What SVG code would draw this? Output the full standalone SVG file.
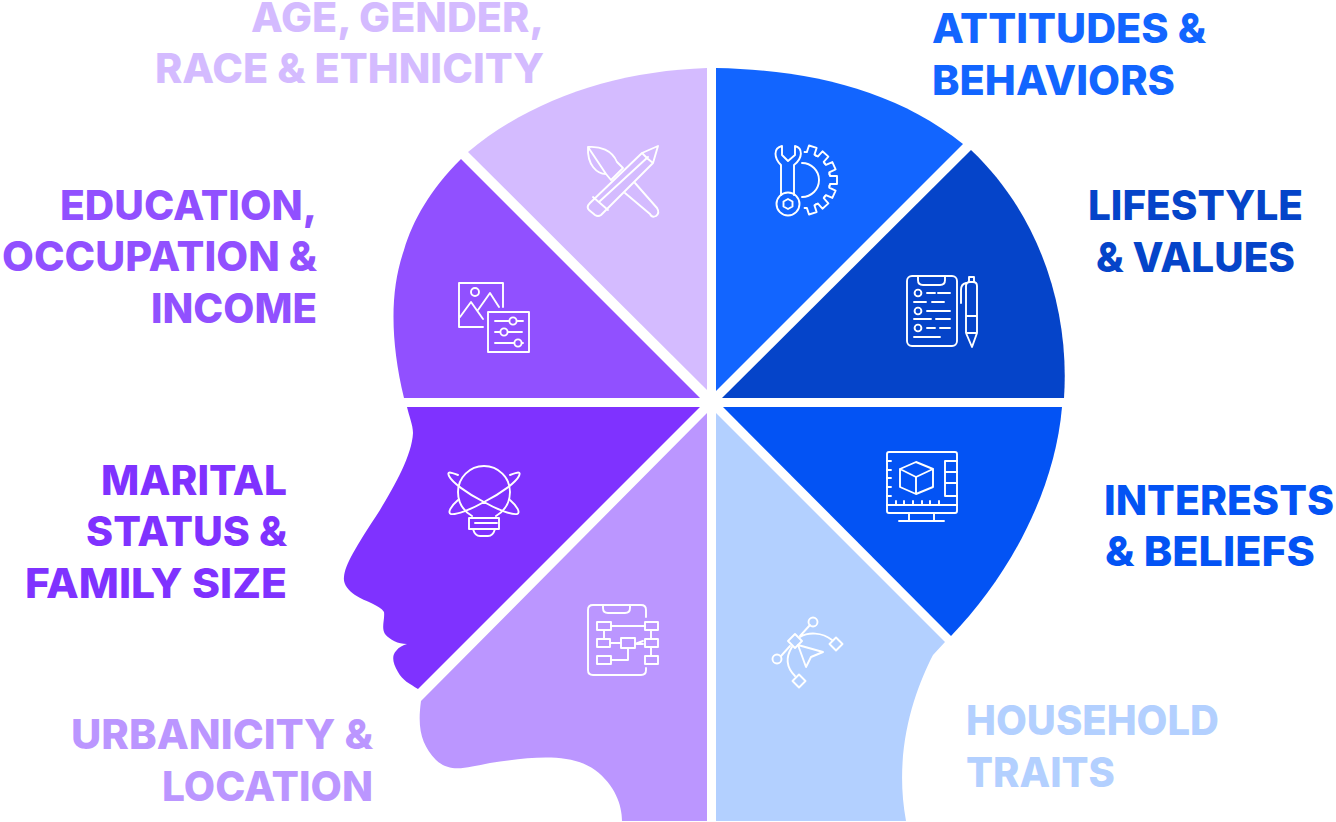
<svg xmlns="http://www.w3.org/2000/svg" width="1336" height="822" viewBox="0 0 1336 822">
<style>
text{font-family:"Inter","Roboto","Liberation Sans",sans-serif;font-weight:800;font-size:41px}
.i{fill:none;stroke:#fff;stroke-width:1.9;stroke-linejoin:round;stroke-linecap:round}
</style>
<defs><path id="t" d="M27.4 -6.2L28 -4H35V4H28L27.4 6.2"/></defs>
<rect width="1336" height="822" fill="#fff"/>
<g id="age">
<path fill="#d4bbff" d="M707 68V390L468 152C530 100 615 71 707 68Z"/>
<g class="i"><path d="M658 146L642 153L590 203Q586 207 589 210L595 215Q598 217 601 215L653 163ZM642 153L648 159L653 163M593 197L608 210M600 201L648 157"/><path d="M588 147C600 146 612 150 617 162L623 168L611 180L606 174C597 174 587 165 588 147ZM588 147L606 174M635 183L657 208Q660 213 656 216Q652 218 650 214L625 193"/></g>
<text x="251" y="32" textLength="293" lengthAdjust="spacingAndGlyphs" fill="#d4bbff">AGE, GENDER,</text><text x="155" y="83" textLength="389" lengthAdjust="spacingAndGlyphs" fill="#d4bbff">RACE &amp; ETHNICITY</text>
</g>
<g id="education">
<path fill="#9150ff" d="M461 159L700 398H404C390 340 390 290 404 250C413 220 430 190 461 159Z"/>
<g class="i"><path d="M483 327H459V283H503V307M460 317L471 302L483 319M478 310L490 293L499 307"/><circle cx="475" cy="292" r="4"/><rect x="488" y="312" width="41" height="40"/><path d="M495 321H509M517 321H523M495 332H500M508 332H522M495 343H514M522 343H523"/><circle cx="513" cy="321" r="3.6"/><circle cx="504" cy="332" r="3.6"/><circle cx="518" cy="343" r="3.6"/></g>
<text x="60" y="220" textLength="257" lengthAdjust="spacingAndGlyphs" fill="#9150ff">EDUCATION,</text><text x="2" y="271" textLength="315" lengthAdjust="spacingAndGlyphs" fill="#9150ff">OCCUPATION &amp;</text><text x="151" y="323" textLength="166" lengthAdjust="spacingAndGlyphs" fill="#9150ff">INCOME</text>
</g>
<g id="marital">
<path fill="#7f32ff" d="M407 407H700L418 689C410 684 402 680 398 672C392 662 392 655 396 651C399 647 403 645 407 644C398 644 390 640 385 634C381 627 385 620 384 612C380 605 366 602 355 595C348 590 343 584 344 577C345 565 355 548 380 510C395 485 412 455 413 433C413 425 409 416 407 407Z"/>
<g class="i"><path d="M472 516C462 510 458 502 458 492A26 26 0 0 1 510 492C510 502 506 510 496 516M469 518H499V529H469ZM475 523H497M473 529Q475 536 480 536H488Q493 536 495 529"/><path d="M458 475C450 472 447 471 449 476C452 482 466 493 484 502C498 510 512 515 517 514C521 513 517 506 510 500M510 475C518 472 521 471 519 476C516 482 502 493 484 502C470 510 456 515 451 514C447 513 451 506 458 500"/></g>
<text x="101" y="495" textLength="186" lengthAdjust="spacingAndGlyphs" fill="#7f32ff">MARITAL</text><text x="86" y="546" textLength="201" lengthAdjust="spacingAndGlyphs" fill="#7f32ff">STATUS &amp;</text><text x="25" y="598" textLength="262" lengthAdjust="spacingAndGlyphs" fill="#7f32ff">FAMILY SIZE</text>
</g>
<g id="urbanicity">
<path fill="#bb96ff" d="M707 413V821H622C622 805 615 785 595 770C570 752 530 757 490 763C465 768 450 773 436 760C422 745 417 730 421 701Z"/>
<g class="i"><path d="M646 617V610Q646 605 641 605H593Q588 605 588 610V670Q588 675 593 675H641Q646 675 646 670V668M603 605V608Q603 613 608 613H625Q630 613 630 608V605"/><rect x="597" y="622" width="14" height="8"/><rect x="645" y="622" width="13" height="8"/><rect x="597" y="639" width="13" height="8"/><rect x="621" y="638" width="14" height="10"/><rect x="645" y="639" width="13" height="8"/><rect x="597" y="656" width="14" height="8"/><rect x="645" y="656" width="13" height="8"/><path d="M611 626H645M604 630V639M651 630V639M610 643H621M628 648V660H611M651 647V656M635 644L643 641L637 644L643 644"/></g>
<text x="71" y="749" textLength="302" lengthAdjust="spacingAndGlyphs" fill="#bb96ff">URBANICITY &amp;</text><text x="162" y="801" textLength="211" lengthAdjust="spacingAndGlyphs" fill="#bb96ff">LOCATION</text>
</g>
<g id="attitudes">
<path fill="#1265ff" d="M716 68C810 70 895 90 963 144L716 391Z"/>
<g class="i"><path d="M781 165C774 158 773 148 782 146V155L788 161L795 155V146C803 148 803 158 794 165V195M781 165V195"/><circle cx="788" cy="204" r="11.5"/><path d="M788 199L792.5 201.5V206.5L788 209L783.5 206.5V201.5Z"/><path d="M802 163A17 17 0 0 1 802 197"/><g transform="translate(802 180)"><use href="#t" transform="rotate(-72)"/><use href="#t" transform="rotate(-48)"/><use href="#t" transform="rotate(-24)"/><use href="#t"/><use href="#t" transform="rotate(24)"/><use href="#t" transform="rotate(48)"/><use href="#t" transform="rotate(72)"/></g></g>
<text x="932" y="43" textLength="274" lengthAdjust="spacingAndGlyphs" fill="#1265ff">ATTITUDES &amp;</text><text x="932" y="95" textLength="243" lengthAdjust="spacingAndGlyphs" fill="#1265ff">BEHAVIORS</text>
</g>
<g id="lifestyle">
<path fill="#0544c9" d="M971 150C1040 215 1070 310 1064 398H722Z"/>
<g class="i"><rect x="907" y="276" width="50" height="70" rx="5"/><path d="M918 276V280Q918 285 923 285H940Q945 285 945 280V276"/><circle cx="918" cy="293" r="3.4"/><circle cx="918" cy="311" r="3.4"/><circle cx="918" cy="328" r="3.4"/><path d="M927 293H935M938 293H950M914 302H926M932 302H944M927 311H950M914 319H931M936 319H950M927 328H935M940 328H950M914 337H940"/><path d="M966 286Q966 282 970 282H973Q977 282 977 286V333L972 347L966 333ZM966 316H977M966 333H977M969 282V277H974V282M966 283Q961 284 961 290V303"/></g>
<text x="1088" y="220" textLength="215" lengthAdjust="spacingAndGlyphs" fill="#0544c9">LIFESTYLE</text><text x="1096" y="272" textLength="199" lengthAdjust="spacingAndGlyphs" fill="#0544c9">&amp; VALUES</text>
</g>
<g id="interests">
<path fill="#0353f4" d="M723 407H1062C1055 490 1010 575 951 636Z"/>
<g class="i"><rect x="887" y="452" width="70" height="61" rx="2"/><path d="M887 505H957M887 461H891M887 470H891M887 478H891M887 487H891M887 496H891M896 501V505M904 501V505M913 501V505M922 501V505M930 501V505M939 501V505M957 461H945V496H957M945 472H957M945 483H957"/><path d="M916 462L933 469V487L916 494L900 487V469ZM900 469L916 477L933 469M916 477V494M909 513V521M934 513V521M899 521H944"/></g>
<text x="1104" y="515" textLength="230" lengthAdjust="spacingAndGlyphs" fill="#0353f4">INTERESTS</text><text x="1105" y="566" textLength="210" lengthAdjust="spacingAndGlyphs" fill="#0353f4">&amp; BELIEFS</text>
</g>
<g id="household">
<path fill="#b3d0ff" d="M716 413L945 642L933 655C915 690 893 750 906 821H716Z"/>
<g class="i"><path d="M795 634L802 641L795 648L788 641ZM836 637.500L842.500 644L836 650.500L829.500 644ZM799 674.500L805.500 681L799 687.500L792.500 681Z"/><circle cx="813" cy="622" r="4.500"/><circle cx="777" cy="659" r="4.500"/><path d="M800 636L810 625M781 656L790 646M800 637C808 632 822 632 832 640M792 647C785 658 787 668 795 676M798 645L823 652L811 657L806 667Z"/></g>
<text x="966" y="735" textLength="253" lengthAdjust="spacingAndGlyphs" fill="#b3d0ff">HOUSEHOLD</text><text x="966" y="787" textLength="149" lengthAdjust="spacingAndGlyphs" fill="#b3d0ff">TRAITS</text>
</g>
</svg>
